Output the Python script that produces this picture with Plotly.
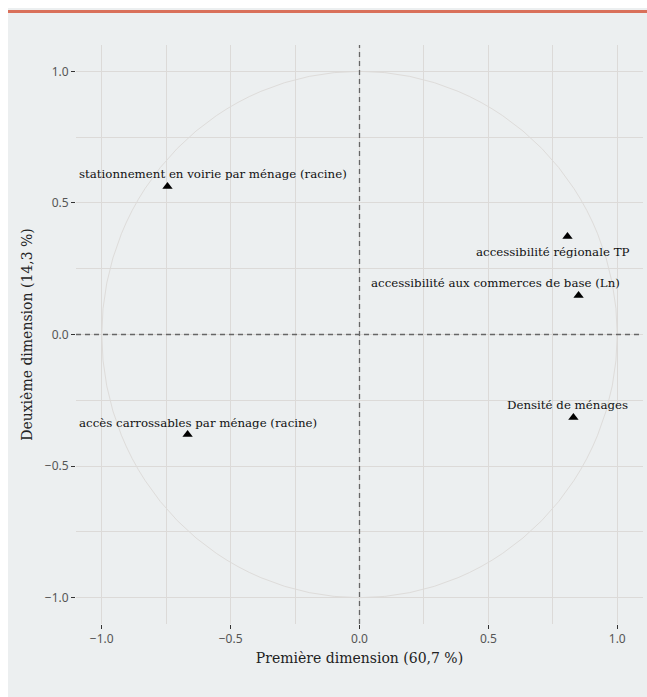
import plotly.graph_objects as go

# ---- data ----
variables = [
    "stationnement en voirie par ménage (racine)",
    "accessibilité régionale TP",
    "accessibilité aux commerces de base (Ln)",
    "Densité de ménages",
    "accès carrossables par ménage (racine)",
]
dim1 = [-0.745, 0.807, 0.850, 0.830, -0.667]
dim2 = [0.562, 0.372, 0.148, -0.315, -0.380]

tick_vals = [-1.0, -0.5, 0.0, 0.5, 1.0]
tick_text = ["−1.0", "−0.5", "0.0", "0.5", "1.0"]

x_title = "Première dimension (60,7 %)"
y_title = "Deuxième dimension (14,3 %)"

# label offsets (pixels) as placed by repel
label_shift = [(46, 13), (-14, -15), (-83, 13), (-6, 12), (10, 12)]

BG = "#ECEFF0"
GRID = "#DCDAD8"

# plot area geometry in pixels (figure coordinates)
W, H = 639, 689
L, T = 68, 37
R = W - 635
B = H - 616
pw, ph = W - L - R, H - T - B

def px_x(p):
    return (p - L) / pw

def px_y(p):
    return (H - B - p) / ph

fig = go.Figure()

fig.add_trace(go.Scatter(
    x=dim1, y=dim2, mode="markers",
    marker=dict(symbol="triangle-up", size=9, color="black"),
    hoverinfo="text", text=variables, showlegend=False,
))

for name, xv, yv, (dx, dy) in zip(variables, dim1, dim2, label_shift):
    fig.add_annotation(
        x=xv, y=yv, xref="x", yref="y", text=name, showarrow=False,
        xshift=dx, yshift=dy,
        font=dict(family="DejaVu Serif", size=11.8, color="#111111"),
    )

shapes = [
    # red top rule
    dict(type="line", xref="paper", yref="paper",
         x0=px_x(0), x1=px_x(W), y0=px_y(3.5), y1=px_y(3.5),
         line=dict(color="#D9705A", width=3)),
    # unit circle
    dict(type="circle", xref="x", yref="y", x0=-1, y0=-1, x1=1, y1=1,
         line=dict(color="#DEDCDA", width=1), layer="below"),
    # dashed axes
    dict(type="line", xref="x", yref="paper", x0=0, x1=0, y0=0, y1=1,
         line=dict(color="#666666", width=1.3, dash="5px,4px")),
    dict(type="line", xref="paper", yref="y", x0=0, x1=1, y0=0, y1=0,
         line=dict(color="#666666", width=1.3, dash="5px,4px")),
]

axis_common = dict(
    tickvals=tick_vals, ticktext=tick_text,
    showgrid=True, gridcolor=GRID, gridwidth=1,
    zeroline=False, showline=False,
    ticks="outside", ticklen=4, tickcolor="#333333", tickwidth=1,
    tickfont=dict(family="Noto Sans", size=12, color="#555555"),
    minor=dict(tickvals=[-0.75, -0.25, 0.25, 0.75], showgrid=True,
               gridcolor=GRID, gridwidth=1, ticks=""),
    title_font=dict(family="DejaVu Serif", size=14, color="#222222"),
)

fig.update_layout(
    width=W, height=H,
    margin=dict(l=L, r=R, t=T, b=B),
    paper_bgcolor=BG, plot_bgcolor=BG,
    shapes=shapes,
    xaxis=dict(range=[-1.1, 1.1], title=dict(text=x_title, standoff=6), **axis_common),
    yaxis=dict(range=[-1.1, 1.1], title=dict(text=y_title, standoff=8), **axis_common),
    showlegend=False,
)

fig.write_html(
    "out.html",
    post_script="document.body.style.margin='8px 0 0 8px';",
)
